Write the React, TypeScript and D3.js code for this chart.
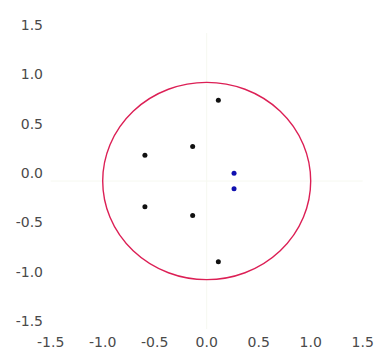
import React, { useEffect, useRef } from 'react';
import * as d3 from 'd3';

// pole / zero positions (real, imag)
const poleRe = [0.112, -0.135, -0.594, -0.594, -0.135, 0.112];
const poleIm = [0.818, 0.35, 0.262, -0.262, -0.35, -0.818];
const zeroRe = [0.263, 0.263];
const zeroIm = [0.079, -0.079];
const tickValues = [-1.5, -1.0, -0.5, 0.0, 0.5, 1.0, 1.5];

const W = 377;
const H = 352;

const App = () => {
    const svgRef = useRef<SVGSVGElement>(null);

    useEffect(() => {
        const svg = d3.select(svgRef.current);
        svg.selectAll('*').remove();

        const x = d3.scaleLinear().domain([-1.5, 1.5]).range([50.7, 362.7]);
        const y = d3.scaleLinear().domain([-1.5, 1.5]).range([329, 33]);

        // very faint zero lines
        svg.append('line')
            .attr('x1', x(-1.5)).attr('x2', x(1.5))
            .attr('y1', y(0)).attr('y2', y(0))
            .attr('stroke', '#f6f8f0').attr('stroke-width', 1);
        svg.append('line')
            .attr('x1', x(0)).attr('x2', x(0))
            .attr('y1', y(1.5)).attr('y2', y(-1.5))
            .attr('stroke', '#f6f8f0').attr('stroke-width', 1);

        // unit circle
        svg.append('ellipse')
            .attr('cx', x(0)).attr('cy', y(0))
            .attr('rx', x(1) - x(0)).attr('ry', y(0) - y(1))
            .attr('fill', 'none')
            .attr('stroke', '#dc1f55')
            .attr('stroke-width', 1.4);

        svg.selectAll('.pole')
            .data(poleRe)
            .join('circle')
            .attr('class', 'pole')
            .attr('cx', d => x(d))
            .attr('cy', (d, i) => y(poleIm[i]))
            .attr('r', 2.5)
            .attr('fill', '#111');

        svg.selectAll('.zero')
            .data(zeroRe)
            .join('circle')
            .attr('class', 'zero')
            .attr('cx', d => x(d))
            .attr('cy', (d, i) => y(zeroIm[i]))
            .attr('r', 2.5)
            .attr('fill', '#1010b0');

        const font = '"DejaVu Sans", Verdana, sans-serif';

        svg.selectAll('.ylab')
            .data(tickValues)
            .join('text')
            .attr('class', 'ylab')
            .attr('x', 43)
            .attr('y', d => y(d) - 8)
            .attr('dy', '0.35em')
            .attr('text-anchor', 'end')
            .attr('font-family', font)
            .attr('font-size', 14)
            .attr('fill', '#4a4a4a')
            .text(d => d3.format('.1f')(d).replace('−', '-'));

        svg.selectAll('.xlab')
            .data(tickValues)
            .join('text')
            .attr('class', 'xlab')
            .attr('x', d => x(d))
            .attr('y', 342)
            .attr('dy', '0.35em')
            .attr('text-anchor', 'middle')
            .attr('font-family', font)
            .attr('font-size', 14)
            .attr('fill', '#4a4a4a')
            .text(d => d3.format('.1f')(d).replace('−', '-'));
    }, []);

    return (
        <svg
            ref={svgRef}
            width={W}
            height={H}
            style={{ position: 'absolute', left: 0, top: 0, background: '#fff' }}
        />
    );
};

export default App;
